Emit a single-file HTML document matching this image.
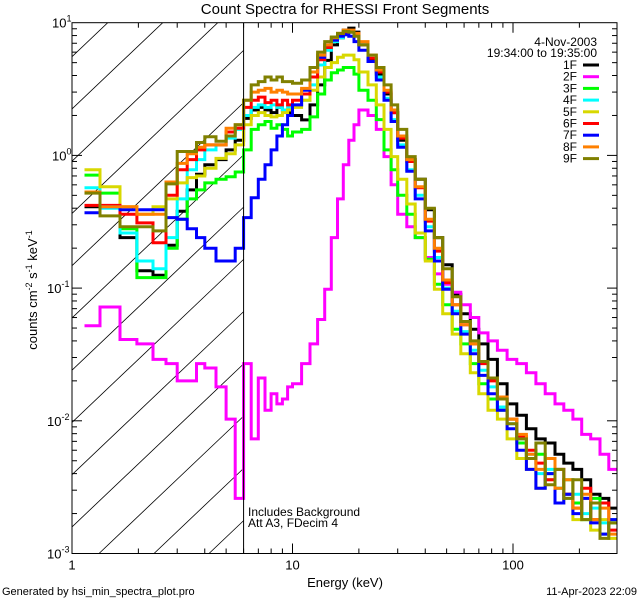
<!DOCTYPE html>
<html><head><meta charset="utf-8"><style>
body{margin:0;background:#fff;}
svg{display:block;font-family:"Liberation Sans",sans-serif;}
</style></head><body>
<svg id="chart" width="640" height="600" viewBox="0 0 640 600">
<rect x="0" y="0" width="640" height="600" fill="#fff"/>
<text x="345" y="14" text-anchor="middle" font-size="15">Count Spectra for RHESSI Front Segments</text>
<g id="hatch"></g>
<g id="series"></g>
<g id="axes"></g>
<text x="597" y="46" text-anchor="end" font-size="12">4-Nov-2003</text>
<text x="597" y="57" text-anchor="end" font-size="12">19:34:00 to 19:35:00</text>
<g id="legend"></g>
<text x="248" y="516" font-size="12">Includes Background</text>
<text x="248" y="527" font-size="12">Att A3, FDecim 4</text>
<text x="345" y="587" text-anchor="middle" font-size="13">Energy (keV)</text>
<text transform="translate(37,290) rotate(-90)" text-anchor="middle" font-size="13">counts cm<tspan font-size="9" dy="-5">-2</tspan><tspan dy="5"> s</tspan><tspan font-size="9" dy="-5">-1</tspan><tspan dy="5"> keV</tspan><tspan font-size="9" dy="-5">-1</tspan></text>
<text x="2" y="595" font-size="11">Generated by hsi_min_spectra_plot.pro</text>
<text x="637" y="595" text-anchor="end" font-size="11">11-Apr-2023 22:09</text>
</svg>
<script>
const edges=[1.14,1.34,1.65,1.97,2.33,2.67,3.0,3.33,3.67,4.0,4.5,5.0,5.5,6.0,6.5,7,7.5,8,8.5,9,9.5,10,11,12,13,14,15,16,17,18,19,20,22,24,26,28,30,33,36,40,44,48,53,58,64,70,77,85,94,104,115,127,140,155,170,187,205,225,248,272,296];
const seriesNames=["1F","2F","3F","4F","5F","6F","7F","8F","9F"];
const seriesColors=["#000000","#ff00ff","#00ff00","#00ffff","#d8d800","#ff0000","#0000ff","#ff8000","#808000"];
const s1F=[0.41,0.41,0.24,0.135,0.125,0.21,0.38,0.55,0.72,0.85,0.93,1.1,1.3,1.9,2.2,2.3,2.2,2.1,2.3,2.2,2.1,2.0,1.85,2.4,3.4,5.2,6.8,7.7,8.8,9.1,8.5,6.8,5.3,4.1,2.9,2.1,1.3,0.93,0.66,0.39,0.24,0.15,0.09,0.064,0.049,0.038,0.029,0.019,0.0134,0.011,0.0087,0.0073,0.0068,0.0056,0.0048,0.0043,0.0036,0.0028,0.0026,0.0022];
const s2F=[0.052,0.072,0.041,0.038,0.029,0.027,0.020,0.020,0.027,0.025,0.018,0.0103,0.0026,0.027,0.0073,0.021,0.012,0.016,0.0134,0.0146,0.018,0.019,0.027,0.038,0.058,0.098,0.24,0.47,0.85,1.3,1.7,2.2,2.0,1.57,0.98,0.6,0.36,0.29,0.24,0.17,0.128,0.107,0.093,0.075,0.060,0.046,0.040,0.034,0.029,0.027,0.023,0.019,0.016,0.0134,0.012,0.0103,0.0079,0.0073,0.0056,0.0043];
const s3F=[0.71,0.52,0.28,0.12,0.12,0.20,0.33,0.47,0.55,0.62,0.66,0.69,0.75,1.1,1.57,1.7,1.8,1.6,1.7,1.57,1.4,1.5,1.57,1.95,2.9,3.7,4.2,4.4,4.6,4.6,4.1,3.1,2.6,1.86,1.1,0.78,0.5,0.36,0.24,0.165,0.107,0.075,0.049,0.038,0.027,0.019,0.0146,0.012,0.0103,0.0068,0.0052,0.0056,0.004,0.0031,0.0036,0.0024,0.0018,0.0026,0.0014,0.0017];
const s4F=[0.57,0.40,0.26,0.16,0.14,0.24,0.47,0.78,0.93,1.1,1.2,1.35,1.57,2.0,2.3,2.4,2.3,2.4,2.3,2.2,2.3,2.4,2.6,3.4,4.8,6.2,7.2,7.7,8.1,8.5,8.1,6.8,5.1,3.9,2.7,1.86,1.2,0.78,0.5,0.29,0.17,0.10,0.067,0.047,0.034,0.024,0.018,0.0127,0.0095,0.0073,0.0056,0.004,0.0043,0.0031,0.0026,0.0028,0.002,0.0022,0.0017,0.0018];
const s5F=[0.78,0.58,0.41,0.36,0.41,0.47,0.62,0.68,0.70,0.80,0.95,1.03,1.2,1.7,2.0,2.1,2.0,1.95,2.0,2.1,2.2,2.3,2.6,3.1,3.9,4.6,5.0,5.5,5.7,5.7,5.25,4.25,3.4,2.4,1.57,0.98,0.66,0.43,0.26,0.16,0.098,0.064,0.045,0.032,0.023,0.016,0.012,0.0103,0.0073,0.0052,0.0043,0.0031,0.0036,0.0024,0.0028,0.0018,0.0026,0.0015,0.0018,0.0013];
const s6F=[0.42,0.42,0.36,0.31,0.22,0.50,0.78,0.93,1.1,1.2,1.2,1.5,1.6,2.3,2.6,2.75,2.5,2.6,2.4,2.6,2.4,2.6,2.9,3.9,5.25,6.5,7.4,8.1,8.5,8.5,8.1,6.8,5.4,4.25,3.0,2.1,1.35,0.9,0.57,0.32,0.19,0.11,0.075,0.053,0.038,0.027,0.02,0.0146,0.0103,0.0076,0.006,0.0048,0.0036,0.0043,0.0028,0.0022,0.0031,0.0018,0.0024,0.0015];
const s7F=[0.37,0.41,0.39,0.39,0.39,0.34,0.33,0.28,0.24,0.20,0.16,0.16,0.20,0.34,0.48,0.66,0.85,1.1,1.4,1.7,2.0,2.4,3.1,4.25,5.5,6.8,7.4,7.9,8.1,7.9,7.2,6.2,5.1,3.7,2.6,1.8,1.15,0.76,0.47,0.27,0.16,0.098,0.064,0.045,0.032,0.022,0.016,0.012,0.0087,0.006,0.0043,0.0031,0.004,0.0024,0.0028,0.002,0.0026,0.0017,0.0014,0.0018];
const s8F=[0.53,0.41,0.41,0.36,0.36,0.63,0.87,1.03,1.15,1.2,1.2,1.6,1.7,2.6,3.0,3.1,3.2,3.0,3.1,3.0,2.9,2.9,3.2,4.25,5.7,6.8,7.7,8.3,8.8,8.8,8.3,7.2,5.7,4.4,3.1,2.2,1.4,0.93,0.58,0.33,0.20,0.115,0.075,0.053,0.038,0.028,0.021,0.0151,0.0103,0.0079,0.0056,0.0043,0.0052,0.0031,0.0036,0.0022,0.0028,0.0018,0.0022,0.0014];
const s9F=[0.52,0.35,0.29,0.29,0.27,0.61,1.07,1.07,1.25,1.38,1.28,1.4,1.7,2.6,3.4,3.6,3.9,3.7,3.9,3.6,3.6,3.5,3.7,4.6,6.0,7.2,7.8,8.3,8.6,8.5,7.9,6.8,5.7,4.6,3.4,2.4,1.57,0.98,0.66,0.40,0.24,0.14,0.086,0.056,0.040,0.028,0.021,0.0146,0.0095,0.0073,0.0052,0.0068,0.0033,0.0043,0.0026,0.0036,0.0018,0.0024,0.0013,0.0017];
const seriesValues=[s1F,s2F,s3F,s4F,s5F,s6F,s7F,s8F,s9F];
const yTickExps=[1,0,-1,-2,-3];
const xTickLabels=["1","10","100"];
const xMajor=[1,10,100];

const NS="http://www.w3.org/2000/svg";
const L=72,R=617,T=22.7,B=553.5,XDEC=220.5,YDEC=132.7;
function xs(e){return L+XDEC*Math.log10(e);}
function ys(v){return T+YDEC*(1-Math.log10(v));}
function mk(tag,attrs,parent){const el=document.createElementNS(NS,tag);for(const k in attrs)el.setAttribute(k,attrs[k]);parent.appendChild(el);return el;}

// clip
const defs=mk("defs",{},document.getElementById("chart"));
const cp=mk("clipPath",{id:"plotclip"},defs);
mk("rect",{x:L,y:T,width:R-L,height:B-T},cp);
const hc=mk("clipPath",{id:"hatchclip"},defs);
mk("rect",{x:L,y:T,width:xs(6)-L,height:B-T},hc);

// hatching
const hg=document.getElementById("hatch");
hg.setAttribute("clip-path","url(#hatchclip)");
for(let x0=99-55*12;x0<=250;x0+=55){
  const ln=mk("line",{x1:x0,y1:B,x2:x0+600,y2:B-570,stroke:"#000","stroke-width":0.8},hg);
  
  
}

// series
const sg=document.getElementById("series");
sg.setAttribute("clip-path","url(#plotclip)");
seriesValues.forEach((vals,i)=>{
  let d="";
  for(let b=0;b<vals.length;b++){
    const xa=xs(edges[b]).toFixed(1),xb=xs(edges[b+1]).toFixed(1),y=ys(vals[b]).toFixed(1);
    d+=(b===0?"M":"L")+xa+","+y+"L"+xb+","+y;
  }
  const p=mk("path",{d:d,fill:"none",stroke:seriesColors[i],"stroke-width":3,"stroke-linejoin":"miter"},sg);
  
  
});

// axes
const ag=document.getElementById("axes");
const frame=mk("rect",{x:L,y:T,width:R-L,height:B-T,fill:"none",stroke:"#000","stroke-width":1},ag);


const vl=mk("line",{x1:xs(6),y1:T,x2:xs(6),y2:B,stroke:"#000","stroke-width":1},ag);


for(let dec=0;dec<3;dec++){
  for(let m=1;m<10;m++){
    const e=m*Math.pow(10,dec);
    if(e>296)break;
    const x=xs(e);const len=(m===1)?10:5;
    const t1=mk("line",{x1:x,y1:B,x2:x,y2:B-len,stroke:"#000"},ag);
    
    
    const t2=mk("line",{x1:x,y1:T,x2:x,y2:T+len,stroke:"#000"},ag);
    
    
  }
}
xMajor.forEach((e,i)=>{
  const t=mk("text",{x:xs(e),y:B+16,"text-anchor":"middle","font-size":13},ag);
  t.textContent=xTickLabels[i];
  
  
});
for(let ex=-3;ex<1;ex++){
  for(let m=1;m<10;m++){
    const v=m*Math.pow(10,ex);const y=ys(v);const len=(m===1)?10:5;
    const a=mk("line",{x1:L,y1:y,x2:L+len,y2:y,stroke:"#000"},ag);
    
    
    const b=mk("line",{x1:R,y1:y,x2:R-len,y2:y,stroke:"#000"},ag);
    
    
  }
}
yTickExps.forEach(ex=>{
  const y=ys(Math.pow(10,ex));
  const t=mk("text",{x:L-4,y:y+5,"text-anchor":"end","font-size":13},ag);
  const base=document.createElementNS(NS,"tspan");base.textContent="10";t.appendChild(base);
  const sup=document.createElementNS(NS,"tspan");sup.setAttribute("dy","-6");sup.setAttribute("font-size","9");sup.textContent=String(ex);t.appendChild(sup);
  t.setAttribute("text-anchor","start");t.setAttribute("x",ex<0?L-25:L-20);
  
  
});

// legend
const lg=document.getElementById("legend");
seriesNames.forEach((n,i)=>{
  const y=69+i*11.7;
  const t=mk("text",{x:577,y:y,"text-anchor":"end","font-size":12},lg);
  t.textContent=n;
  
  
  const l=mk("line",{x1:583,y1:y-4,x2:599,y2:y-4,stroke:seriesColors[i],"stroke-width":3},lg);
  
  
});
</script>
</body></html>
